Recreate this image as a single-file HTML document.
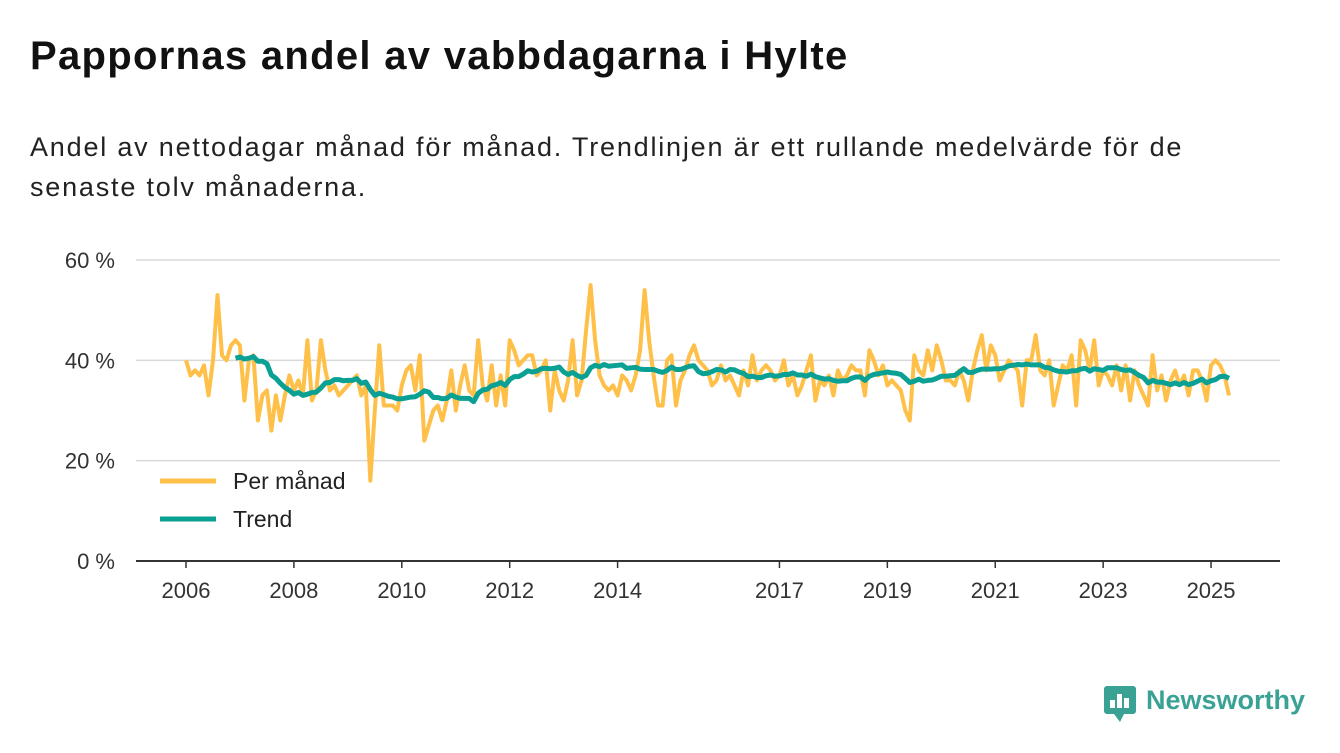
<!DOCTYPE html>
<html><head><meta charset="utf-8"><style>
body{margin:0;background:#fff;font-family:"Liberation Sans",sans-serif;}
#wrap{position:relative;width:1340px;height:753px;overflow:hidden}
h1{position:absolute;left:30px;top:34px;margin:0;font-size:40px;font-weight:bold;color:#111;letter-spacing:1.3px}
p{position:absolute;left:30px;top:127px;margin:0;font-size:27px;line-height:40px;color:#222;width:1265px;letter-spacing:1.8px}
</style></head><body><div id="wrap">
<h1>Pappornas andel av vabbdagarna i Hylte</h1>
<p>Andel av nettodagar månad för månad. Trendlinjen är ett rullande medelvärde för de senaste tolv månaderna.</p>
<svg id="chart" width="1340" height="753" style="position:absolute;left:0;top:0"></svg>
</div>
<script>
const startYear = 2006;
const monthly = [
40,37,38,37,39,33,40,53,41,40,43,44,
43,32,40,41,28,33,34,26,33,28,33,37,
34,36,33,44,32,34,44,38,34,35,33,34,
35,36,37,33,35,16,30,43,31,31,31,30,
35,38,39,34,41,24,27,30,31,28,32,38,
30,35,39,34,33,44,35,32,39,31,37,31,
44,42,39,40,41,41,37,38,40,30,38,34,
32,36,44,33,36,46,55,44,37,35,34,35,
33,37,36,34,37,42,54,44,37,31,31,40,
41,31,36,38,41,43,40,39,38,35,36,39,
36,37,35,33,38,35,41,36,38,39,38,36,
37,40,35,37,33,35,38,41,32,36,35,37,
33,38,36,37,39,38,38,33,42,40,37,39,
35,36,35,34,30,28,41,38,37,42,38,43,
40,36,36,35,38,36,32,38,42,45,38,43,
41,36,38,40,39,38,31,40,40,45,38,37,
40,31,35,39,38,41,31,44,42,38,44,35,
38,37,35,39,34,39,32,38,35,33,31,41,
34,37,32,36,38,35,37,33,38,38,36,32,
39,40,39,37,33];
const yTicks = [0,20,40,60];
const xTickYears = [2006,2008,2010,2012,2014,2017,2019,2021,2023,2025];

const NS="http://www.w3.org/2000/svg";
const svg=document.getElementById('chart');
const x0=186, pxYear=53.95, yBase=561, pxPct=5.017;
const xs=t=>x0+t*pxYear;
const ys=v=>yBase-v*pxPct;
function mk(tag,attrs){const e=document.createElementNS(NS,tag);for(const k in attrs)e.setAttribute(k,attrs[k]);svg.appendChild(e);return e;}

yTicks.forEach(v=>{
  if(v>0){const g=mk('line',{x1:136,x2:1280,y1:ys(v),y2:ys(v),stroke:'#d9d9d9','stroke-width':1.5});
  
  }
  const t=mk('text',{x:115,y:ys(v)+8,'text-anchor':'end','font-size':22,fill:'#333','font-family':'Liberation Sans, sans-serif'});
  t.textContent=v+' %';
  
  
});
const ax=mk('line',{x1:136,x2:1280,y1:yBase,y2:yBase,stroke:'#333','stroke-width':2});


xTickYears.forEach(yr=>{
  const x=xs(yr-startYear);
  const tk=mk('line',{x1:x,x2:x,y1:yBase,y2:yBase+7,stroke:'#333','stroke-width':1.5});
  
  
  const t=mk('text',{x:x,y:598,'text-anchor':'middle','font-size':22,fill:'#333','font-family':'Liberation Sans, sans-serif'});
  t.textContent=yr;
  
  
});
const mp=monthly.map((v,i)=>xs(i/12).toFixed(1)+','+ys(v).toFixed(1)).join(' ');
const l1=mk('polyline',{points:mp,fill:'none',stroke:'#ffc04a','stroke-width':4,'stroke-linejoin':'round'});


const trend=[];
for(let i=11;i<monthly.length;i++){let s=0;for(let j=i-11;j<=i;j++)s+=monthly[j];trend.push([i,s/12]);}
const tp=trend.map(([i,v])=>xs(i/12).toFixed(1)+','+ys(v).toFixed(1)).join(' ');
const l2=mk('polyline',{points:tp,fill:'none',stroke:'#0aa093','stroke-width':5,'stroke-linejoin':'round'});



[['Per månad','#ffc04a',481],['Trend','#0aa093',519]].forEach(([lab,c,y])=>{
  const l=mk('line',{x1:160,x2:216,y1:y,y2:y,stroke:c,'stroke-width':5});
  
  
  const t=mk('text',{x:233,y:y+8,'font-size':23,fill:'#222','font-family':'Liberation Sans, sans-serif'});
  t.textContent=lab;
  
  
});
const lg=mk('rect',{x:1104,y:686,width:32,height:28,rx:3,fill:'#3aa294'});


const lp=mk('path',{d:'M1114,714 L1120,722 L1124,714 Z',fill:'#3aa294'});


[[1110,700,5],[1117,694,5],[1124,698,5]].forEach(([x,y,w])=>{const b=mk('rect',{x:x,y:y,width:w,height:708-y,fill:'#fff'});

});
const lt=mk('text',{x:1146,y:709,'font-size':27,'font-weight':'bold',fill:'#3aa294','font-family':'Liberation Sans, sans-serif'});
lt.textContent='Newsworthy';


</script></body></html>
